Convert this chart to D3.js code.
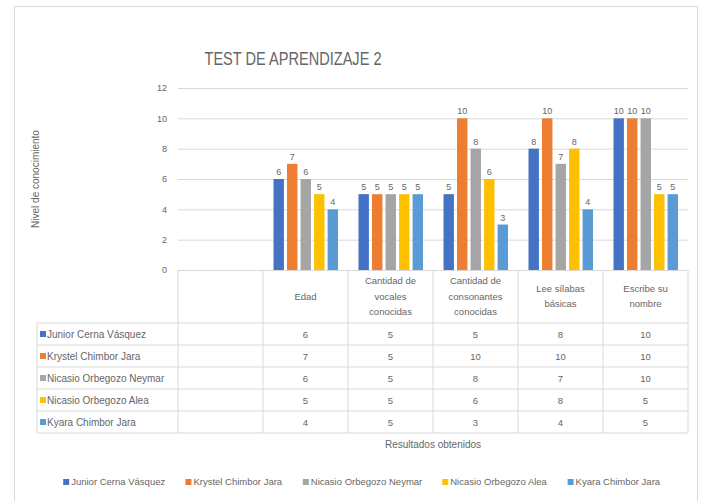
<!DOCTYPE html>
<html>
<head>
<meta charset="utf-8">
<script src="https://cdn.jsdelivr.net/npm/d3@7"></script>
<style>
  body { margin: 0; background: #fff; }
  text { font-family: "Liberation Sans", Arial, sans-serif; fill: #666; }
</style>
</head>
<body>
<svg></svg>
<script>
(function () {
  var width = 710, height = 501;

  // data
  var categories = ["", "Edad", "Cantidad de vocales conocidas", "Cantidad de consonantes conocidas",
                    "Lee sílabas básicas", "Escribe su nombre"];
  var series = ["Junior Cerna Vásquez", "Krystel Chimbor Jara", "Nicasio Orbegozo Neymar",
                "Nicasio Orbegozo Alea", "Kyara Chimbor Jara"];
  // one array per series, values for categories[1..5]
  var junior  = [6, 5, 5, 8, 10];
  var krystel = [7, 5, 10, 10, 10];
  var neymar  = [6, 5, 8, 7, 10];
  var alea    = [5, 5, 6, 8, 5];
  var kyara   = [4, 5, 3, 4, 5];
  var yTicks = [0, 2, 4, 6, 8, 10, 12];
  var colors = ["#4472C4", "#ED7D31", "#A5A5A5", "#FFC000", "#5B9BD5"];

  var values = [junior, krystel, neymar, alea, kyara];
  var table = series.map(function (s, i) {
    return {name: s, color: colors[i], vals: values[i]};
  });

  var svg = d3.select("svg").attr("width", width).attr("height", height);
  svg.append("rect").attr("width", width).attr("height", height).attr("fill", "#fff");
  // chart frame
  svg.append("rect")
    .attr("x", 14.5).attr("y", 6.5).attr("width", 683).attr("height", 520)
    .attr("fill", "none").attr("stroke", "#d9d9d9");

  var plot = {left: 178, right: 688, top: 88, bottom: 270};
  var rowH = 22, headH = 53;
  var tableLeft = 37;

  var x = d3.scaleBand().domain(categories).range([plot.left, plot.right]);
  var xs = d3.scaleBand().domain(series).range([10.5, 75]).paddingInner(0.23);
  var y = d3.scaleLinear().domain([0, 12]).range([plot.bottom, plot.top]);
  var z = d3.scaleOrdinal().domain(series).range(colors);

  // title
  svg.append("text")
    .attr("x", 293).attr("y", 65)
    .attr("text-anchor", "middle")
    .attr("font-size", 18)
    .attr("textLength", 177).attr("lengthAdjust", "spacingAndGlyphs")
    .text("TEST DE APRENDIZAJE 2");

  // y gridlines + labels
  var yAxis = svg.append("g")
    .attr("transform", "translate(" + plot.left + ",0)")
    .call(d3.axisLeft(y).tickValues(yTicks).tickSize(-(plot.right - plot.left)).tickPadding(11));
  yAxis.select(".domain").remove();
  yAxis.selectAll(".tick line").attr("stroke", "#d9d9d9");
  yAxis.selectAll(".tick text").attr("font-size", 9).attr("fill", "#666")
    .style("font-family", "Liberation Sans, Arial, sans-serif");

  // y axis title
  svg.append("text")
    .attr("transform", "translate(39," + 179 + ") rotate(-90)")
    .attr("text-anchor", "middle")
    .attr("font-size", 10)
    .text("Nivel de conocimiento");

  // bars
  var groups = svg.selectAll(".serie")
    .data(table)
    .enter().append("g")
    .attr("class", "serie")
    .attr("fill", function (d) { return z(d.name); });

  groups.selectAll("rect")
    .data(function (d) {
      return d.vals.map(function (v, j) { return {name: d.name, cat: categories[j + 1], v: v}; });
    })
    .enter().append("rect")
    .attr("x", function (d) { return x(d.cat) + xs(d.name); })
    .attr("y", function (d) { return y(d.v); })
    .attr("width", xs.bandwidth())
    .attr("height", function (d) { return y(0) - y(d.v); });

  // data labels
  groups.selectAll("text")
    .data(function (d) {
      return d.vals.map(function (v, j) { return {name: d.name, cat: categories[j + 1], v: v}; });
    })
    .enter().append("text")
    .attr("x", function (d) { return x(d.cat) + xs(d.name) + xs.bandwidth() / 2; })
    .attr("y", function (d) { return y(d.v) - 4; })
    .attr("text-anchor", "middle")
    .attr("font-size", 9)
    .text(function (d) { return d.v; });

  // data table
  var tbl = svg.append("g").attr("class", "datatable");
  var tableBottom = plot.bottom + headH + rowH * series.length;
  var lineColor = "#d9d9d9";

  // vertical lines at column edges
  var edges = categories.map(function (c) { return x(c); }).concat([x.range()[1]]);
  tbl.selectAll(".vline").data(edges).enter().append("line")
    .attr("x1", function (d) { return d; }).attr("x2", function (d) { return d; })
    .attr("y1", plot.bottom).attr("y2", tableBottom)
    .attr("stroke", lineColor);
  tbl.append("line")
    .attr("x1", tableLeft).attr("x2", tableLeft)
    .attr("y1", plot.bottom + headH).attr("y2", tableBottom)
    .attr("stroke", lineColor);
  // horizontal row lines
  var rows = d3.range(series.length + 1).map(function (i) { return plot.bottom + headH + i * rowH; });
  tbl.selectAll(".hline").data(rows).enter().append("line")
    .attr("x1", tableLeft).attr("x2", plot.right)
    .attr("y1", function (d) { return d; }).attr("y2", function (d) { return d; })
    .attr("stroke", lineColor);

  // header labels, wrapped
  var heads = tbl.selectAll(".head").data(categories.slice(1)).enter().append("text")
    .attr("class", "head")
    .attr("text-anchor", "middle")
    .attr("font-size", 9.5)
    .attr("x", function (d) { return x(d) + x.bandwidth() / 2; });
  heads.each(function (d) {
    var t = d3.select(this), words = d.split(" "), lines = [], cur = "";
    words.forEach(function (w) {
      var test = cur ? cur + " " + w : w;
      t.text(test);
      if (cur && this.getComputedTextLength() > 62) { lines.push(cur); cur = w; }
      else cur = test;
    }, this);
    lines.push(cur);
    t.text(null);
    var lh = 15.5, cy = plot.bottom + headH / 2 + 3;
    lines.forEach(function (l, i) {
      t.append("tspan")
        .attr("x", x(d) + x.bandwidth() / 2)
        .attr("y", cy + (i - (lines.length - 1) / 2) * lh)
        .text(l);
    });
  });

  // table rows
  var rowG = tbl.selectAll(".row").data(table).enter().append("g")
    .attr("class", "row")
    .attr("transform", function (d, i) { return "translate(0," + (plot.bottom + headH + i * rowH + rowH / 2) + ")"; });
  rowG.append("rect")
    .attr("x", tableLeft + 3).attr("y", -3).attr("width", 6).attr("height", 6)
    .attr("fill", function (d) { return d.color; });
  rowG.append("text")
    .attr("x", tableLeft + 10).attr("y", 3.5)
    .attr("font-size", 10)
    .text(function (d) { return d.name; });
  rowG.selectAll(".val").data(function (d) { return d.vals; }).enter().append("text")
    .attr("class", "val")
    .attr("x", function (d, j) { return x(categories[j + 1]) + x.bandwidth() / 2; })
    .attr("y", 3.5)
    .attr("text-anchor", "middle")
    .attr("font-size", 9.5)
    .text(function (d) { return d; });

  // x axis title
  svg.append("text")
    .attr("x", (plot.left + plot.right) / 2).attr("y", tableBottom + 15)
    .attr("text-anchor", "middle")
    .attr("font-size", 10)
    .text("Resultados obtenidos");

  // legend
  var legend = svg.append("g").attr("class", "legend");
  var items = legend.selectAll("g").data(series).enter().append("g");
  items.append("rect").attr("width", 6).attr("height", 6).attr("y", -6)
    .attr("fill", function (d) { return z(d); });
  items.append("text").attr("x", 8).attr("y", 0).attr("font-size", 9.5).text(function (d) { return d; });
  var pos = 0, gap = 20;
  items.each(function () {
    var w = this.getBBox().width;
    d3.select(this).attr("transform", "translate(" + pos + ",0)");
    pos += w + gap;
  });
  pos -= gap;
  legend.attr("transform", "translate(" + (362 - pos / 2) + ",485)");
})();
</script>
</body>
</html>
